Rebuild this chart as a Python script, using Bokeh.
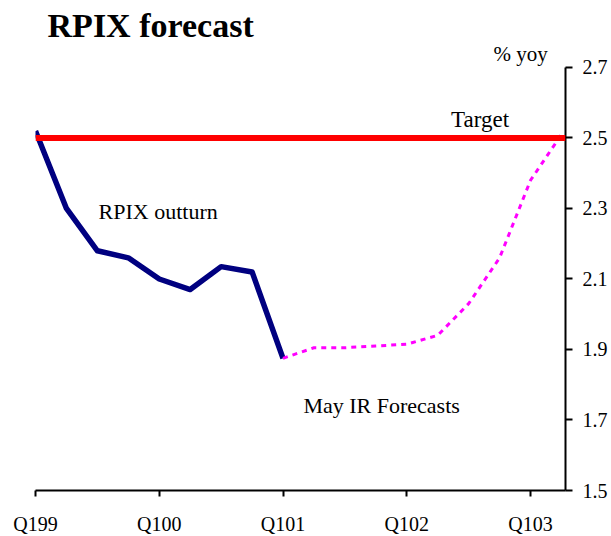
from bokeh.plotting import figure
from bokeh.models import Range1d, FixedTicker, Span, Label
from bokeh.embed import file_html
from bokeh.resources import INLINE

quarters = ["Q199", "Q299", "Q399", "Q499", "Q100", "Q200", "Q300", "Q400",
            "Q101", "Q201", "Q301", "Q401", "Q102", "Q202", "Q302", "Q402",
            "Q103", "Q203"]
outturn = [2.52, 2.30, 2.18, 2.16, 2.10, 2.07, 2.135, 2.12, 1.875]
forecast = [1.875, 1.905, 1.905, 1.91, 1.915, 1.94, 2.03, 2.16, 2.38, 2.51]
target = 2.5
tick_quarters = ["Q199", "Q100", "Q101", "Q102", "Q103"]
y_ticks = [1.5, 1.7, 1.9, 2.1, 2.3, 2.5, 2.7]

idx = {q: i for i, q in enumerate(quarters)}
x_out = list(range(len(outturn)))
x_fc = list(range(len(outturn) - 1, len(outturn) - 1 + len(forecast)))

FONT = "Liberation Serif"

p = figure(frame_width=530, frame_height=490,
           x_range=Range1d(0, 17.13), y_range=Range1d(1.5, 2.89),
           y_axis_location="right", output_backend="svg", toolbar_location=None,
           min_border_left=35, min_border_top=0, min_border_right=44,
           min_border_bottom=46)
p.outline_line_color = None
p.xgrid.grid_line_color = None
p.ygrid.grid_line_color = None
p.background_fill_color = "white"
p.border_fill_color = "white"

p.add_layout(Span(location=target, dimension="width", line_color="#FF0000",
                  line_width=6))
p.line(x_out, outturn, line_color="#000080", line_width=5.5, line_join="round")
p.line(x_fc, forecast, line_color="#FF00FF", line_width=3, line_dash="5 5")

xa = p.xaxis[0]
xa.ticker = FixedTicker(ticks=[idx[q] for q in tick_quarters], minor_ticks=[])
xa.major_label_overrides = {idx[q]: q for q in tick_quarters}
xa.axis_line_width = 2
xa.major_tick_line_width = 2
xa.major_tick_in = 0
xa.major_tick_out = 6
xa.minor_tick_line_color = None
xa.major_label_standoff = 16
xa.major_label_text_font = FONT
xa.major_label_text_font_size = "20px"
xa.major_label_text_color = "black"

ya = p.yaxis[0]
ya.bounds = (1.5, 2.7)
ya.ticker = FixedTicker(ticks=y_ticks, minor_ticks=[])
ya.axis_line_width = 2
ya.major_tick_line_width = 2
ya.major_tick_in = 0
ya.major_tick_out = 7
ya.minor_tick_line_color = None
ya.major_label_standoff = 10
ya.major_label_text_font = FONT
ya.major_label_text_font_size = "20px"
ya.major_label_text_color = "black"

p.add_layout(Label(x=0.39, y=2.819, text="RPIX forecast", text_font=FONT,
                   text_font_size="34px", text_font_style="bold",
                   text_baseline="alphabetic", text_align="left",
                   text_color="black"))
p.add_layout(Label(x=15.68, y=2.739, text="% yoy", text_font=FONT,
                   text_font_size="21px", text_baseline="alphabetic",
                   text_align="center", text_color="black"))
p.add_layout(Label(x=14.37, y=2.552, text="Target", text_font=FONT,
                   text_font_size="23px", text_baseline="alphabetic",
                   text_align="center", text_color="black"))
p.add_layout(Label(x=2.04, y=2.291, text="RPIX outturn", text_font=FONT,
                   text_font_size="22px", text_baseline="alphabetic",
                   text_align="left", text_color="black"))
p.add_layout(Label(x=8.66, y=1.741, text="May IR Forecasts", text_font=FONT,
                   text_font_size="22px", text_baseline="alphabetic",
                   text_align="left", text_color="black"))

open("out.html", "w").write(file_html(p, INLINE))
